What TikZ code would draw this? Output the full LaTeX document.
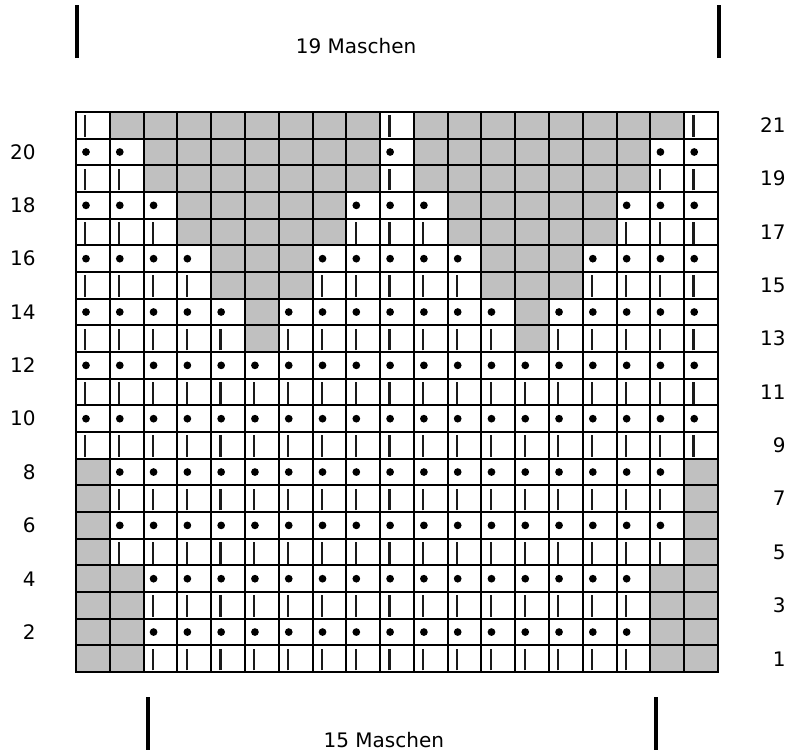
\documentclass[tikz,border=0pt]{standalone}
\usepackage{fontspec}
\setmainfont{DejaVu Sans}
\definecolor{Ink}{HTML}{000000}
\definecolor{StitchInk}{HTML}{1A1A1A}
\definecolor{CastGray}{HTML}{C0C0C0}
\tikzset{
  gridLine/.style={draw=Ink,line width=1.5pt},
  gridFrame/.style={draw=Ink,line width=1.7pt},
  emptyCell/.style={fill=CastGray},
  knitBar/.style={draw=StitchInk,line width=1.6pt},
  purlDot/.style={fill=Ink},
  rowNum/.style={font=\fontsize{15}{18}\selectfont,inner sep=0pt,anchor=east},
  countLabel/.style={font=\fontsize{15}{18}\selectfont,inner sep=0pt},
  widthBar/.style={draw=Ink,line width=2.6pt}
}

\begin{document}
\begin{tikzpicture}[x=25.34pt,y=20pt]
  \useasboundingbox (-2.249,-3.1125) rectangle (21.101,25.2);
  % stitches
  \foreach \r in {1,3,...,21}{
    \foreach \c in {1,...,19}{\draw[knitBar] (\c-0.724,\r-0.935)--(\c-0.724,\r-0.125);}}
  \foreach \r in {2,4,...,20}{
    \foreach \c in {1,...,19}{\fill[purlDot] (\c-0.704,\r-0.5) circle (2.9pt);}}
  % cells without stitch
  \foreach \ca/\cb/\ra/\rb in {1/2/1/4,18/19/1/4,1/1/5/8,19/19/5/8,6/6/13/14,14/14/13/14,
      5/7/15/16,13/15/15/16,4/8/17/18,12/16/17/18,3/9/19/20,11/17/19/20,2/9/21/21,11/18/21/21}{
    \fill[emptyCell] (\ca-1,\ra-1) rectangle (\cb,\rb);}
  % grid
  \foreach \c in {1,...,18}{\draw[gridLine] (\c,0)--(\c,21);}
  \foreach \r in {1,...,20}{\draw[gridLine] (0,\r)--(19,\r);}
  \draw[gridFrame] (0,0) rectangle (19,21);
  % row numbers
  \foreach \n in {2,4,...,20}{\node[rowNum] (left\n) at (-1.19,\n-0.5) {\n};}
  \foreach \n in {1,3,...,21}{\node[rowNum] (right\n) at (21.01,\n-0.5) {\n};}
  % stitch counts
  \draw[widthBar] (0.03,23.02)--(0.03,25.01);
  \draw[widthBar] (19.03,23.02)--(19.03,25.01);
  \node[countLabel] (topCount) at (8.29,23.49) {19 Maschen};
  \draw[widthBar] (2.13,-0.94)--(2.13,-2.92);
  \draw[widthBar] (17.16,-0.94)--(17.16,-2.92);
  \node[countLabel] (bottomCount) at (9.11,-2.55) {15 Maschen};
\end{tikzpicture}
\end{document}
